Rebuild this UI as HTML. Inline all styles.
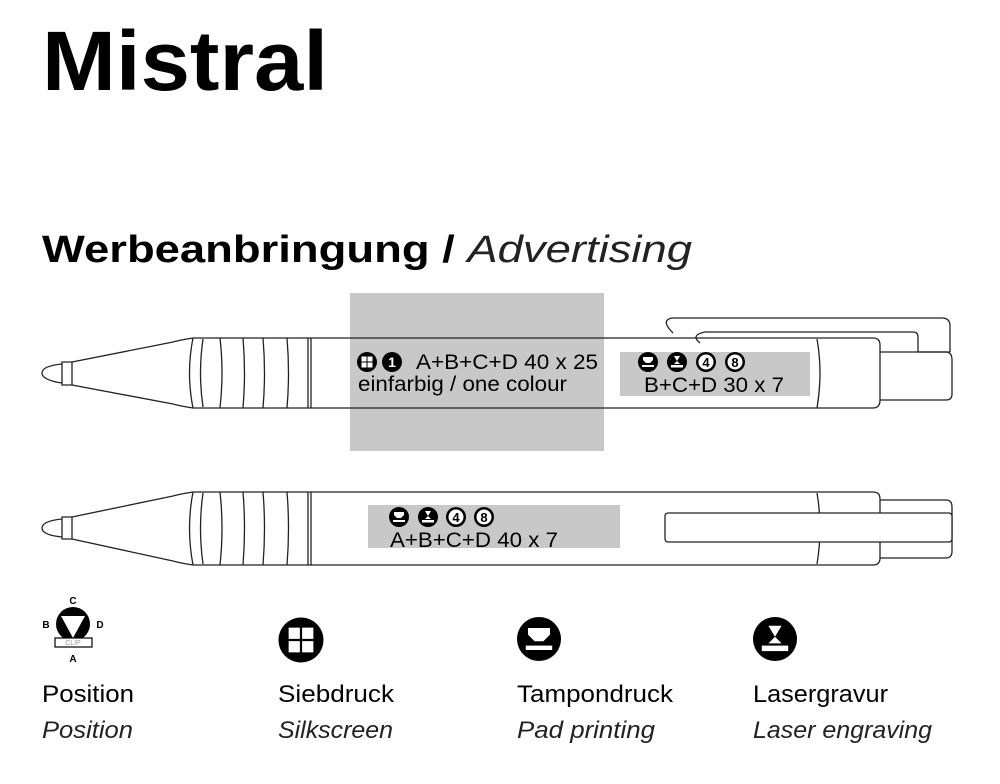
<!DOCTYPE html>
<html><head><meta charset="utf-8"><style>
html,body{margin:0;padding:0;background:#fff;}
svg{display:block;font-family:"Liberation Sans",Arial,sans-serif;}
</style></head><body>
<svg width="1000" height="784" viewBox="0 0 1000 784" xmlns="http://www.w3.org/2000/svg">
<defs>
<g id="sieb"><circle r="10" fill="#000"/><rect x="-5.5" y="-5.5" width="5" height="5" fill="#fff"/><rect x="0.5" y="-5.5" width="5" height="5" fill="#fff"/><rect x="-5.5" y="0.5" width="5" height="5" fill="#fff"/><rect x="0.5" y="0.5" width="5" height="5" fill="#fff"/></g>
<g id="tamp"><circle r="10" fill="#000"/><path d="M-5,-5 H5 V-2 L2,1 H-2 L-5,-2Z" fill="#fff"/><rect x="-6" y="3" width="12" height="2" fill="#fff"/></g>
<g id="laser"><circle r="10" fill="#000"/><path d="M-3,-6 H3 L0,-1 L3,2 H-3 L0,-1Z" fill="#fff"/><rect x="-6" y="3" width="12" height="2.5" fill="#fff"/></g>
<g id="four"><circle r="10" fill="#000"/><circle r="7.5" fill="#fff"/><text x="0" y="5" font-size="13" font-weight="bold" text-anchor="middle">4</text></g>
<g id="eight"><circle r="10" fill="#000"/><circle r="7.5" fill="#fff"/><text x="0" y="5" font-size="13" font-weight="bold" text-anchor="middle">8</text></g>
<g id="one"><circle r="10" fill="#000"/><text x="0" y="5" font-size="14" font-weight="bold" fill="#fff" text-anchor="middle">1</text></g>
</defs>

<text x="42" y="90" font-size="84" font-weight="bold" textLength="286" lengthAdjust="spacingAndGlyphs">Mistral</text>
<text x="42" y="262" font-size="38" font-weight="bold" textLength="650" lengthAdjust="spacingAndGlyphs">Werbeanbringung / <tspan font-weight="normal" font-style="italic" fill="#222">Advertising</tspan></text>

<!-- Pen 1 -->
<rect x="350" y="293" width="254" height="158" fill="#c8c8c8"/>
<g fill="none" stroke="#222" stroke-width="1.3">
<path d="M673,333 Q660,320 672,318 H942 Q950,318 950,326 V352"/>
<path d="M700,343 Q690,335 705,332 H913 Q918,332 918,337 V352 H950"/>
<path d="M193,338 H873 Q880,338 880,345 V400 Q880,408 873,408 H193"/>
<path d="M193,338 Q186,373 193,408"/>
<path d="M173,342 L72,362 M173,404 L72,385"/>
<path d="M173,342 Q180,340 193,338 M173,404 Q180,406 193,408"/>
<path d="M62,362 H72 V385 H62 Z"/>
<path d="M62,364 Q42,366 42,373 Q42,380 62,383"/>
<path d="M203,339 Q198,373 203,407"/>
<path d="M220,338 Q224,373 220,408 M243,338 Q246,373 243,408 M263,338 Q266,373 263,408 M287,338 Q290,373 287,408 M308,338 V408 M311,338 V408"/>
<path d="M817,339 Q823,373 817,408"/>
<path d="M880,352 H946 Q952,352 952,360 V394 Q952,400 946,400 H880"/>
</g>
<rect x="620" y="352" width="190" height="44" fill="#c8c8c8"/>
<use href="#sieb" x="367" y="362"/><use href="#one" x="392" y="362"/>
<text x="416" y="369" font-size="21" textLength="182" lengthAdjust="spacingAndGlyphs">A+B+C+D 40 x 25</text>
<text x="358" y="391" font-size="21" textLength="209" lengthAdjust="spacingAndGlyphs">einfarbig / one colour</text>
<use href="#tamp" x="648" y="362"/><use href="#laser" x="677" y="362"/><use href="#four" x="706" y="362"/><use href="#eight" x="735" y="362"/>
<text x="644" y="392" font-size="21" textLength="140" lengthAdjust="spacingAndGlyphs">B+C+D 30 x 7</text>

<!-- Pen 2 -->
<g fill="none" stroke="#222" stroke-width="1.3">
<path d="M193,492 H873 Q880,492 880,499 V558 Q880,565 873,565 H193"/>
<path d="M193,492 Q186,528 193,565"/>
<path d="M173,496 L72,517 M173,561 L72,539"/>
<path d="M173,496 Q180,494 193,492 M173,561 Q180,563 193,565"/>
<path d="M62,517 H72 V539 H62 Z"/>
<path d="M62,519 Q42,521 42,528 Q42,535 62,537"/>
<path d="M203,493 Q198,528 203,564"/>
<path d="M220,492 Q224,528 220,565 M243,492 Q246,528 243,565 M263,492 Q266,528 263,565 M287,492 Q290,528 287,565 M308,492 V565 M311,492 V565"/>
<path d="M817,493 Q823,528 817,564"/>
<path d="M880,500 H946 Q952,500 952,507 V551 Q952,558 946,558 H880"/>
</g>
<rect x="665" y="513" width="287" height="29" rx="3" fill="#fff" stroke="#222" stroke-width="1.3"/>
<rect x="368" y="505" width="252" height="43" fill="#c8c8c8"/>
<use href="#tamp" x="399" y="517"/><use href="#laser" x="428" y="517"/><use href="#four" x="456" y="517"/><use href="#eight" x="484" y="517"/>
<text x="390" y="547" font-size="21" textLength="168" lengthAdjust="spacingAndGlyphs">A+B+C+D 40 x 7</text>

<!-- Legend -->
<g transform="translate(73,624)">
<circle r="17" fill="#000"/><path d="M-12,-8 H12 L0,14Z" fill="#fff"/>
<rect x="-18" y="14" width="37" height="9" fill="#fff" stroke="#000" stroke-width="1.2"/>
<text x="0" y="21" font-size="7" fill="#999" text-anchor="middle">CLIP</text>
<text x="0" y="-20" font-size="10" font-weight="bold" text-anchor="middle">C</text>
<text x="-27" y="4" font-size="10" font-weight="bold" text-anchor="middle">B</text>
<text x="27" y="4" font-size="10" font-weight="bold" text-anchor="middle">D</text>
<text x="0" y="38" font-size="10" font-weight="bold" text-anchor="middle">A</text>
</g>
<use href="#sieb" transform="translate(301,640) scale(2.25)"/>
<use href="#tamp" transform="translate(539,639) scale(2.2)"/>
<use href="#laser" transform="translate(775,639) scale(2.2)"/>
<g font-size="24" lengthAdjust="spacingAndGlyphs">
<text x="42" y="702" textLength="92" lengthAdjust="spacingAndGlyphs">Position</text>
<text x="42" y="738" font-style="italic" fill="#222" textLength="91" lengthAdjust="spacingAndGlyphs">Position</text>
<text x="278" y="702" textLength="116" lengthAdjust="spacingAndGlyphs">Siebdruck</text>
<text x="278" y="738" font-style="italic" fill="#222" textLength="115" lengthAdjust="spacingAndGlyphs">Silkscreen</text>
<text x="517" y="702" textLength="156" lengthAdjust="spacingAndGlyphs">Tampondruck</text>
<text x="517" y="738" font-style="italic" fill="#222" textLength="138" lengthAdjust="spacingAndGlyphs">Pad printing</text>
<text x="753" y="702" textLength="135" lengthAdjust="spacingAndGlyphs">Lasergravur</text>
<text x="753" y="738" font-style="italic" fill="#222" textLength="179" lengthAdjust="spacingAndGlyphs">Laser engraving</text>
</g>
</svg>
</body></html>
